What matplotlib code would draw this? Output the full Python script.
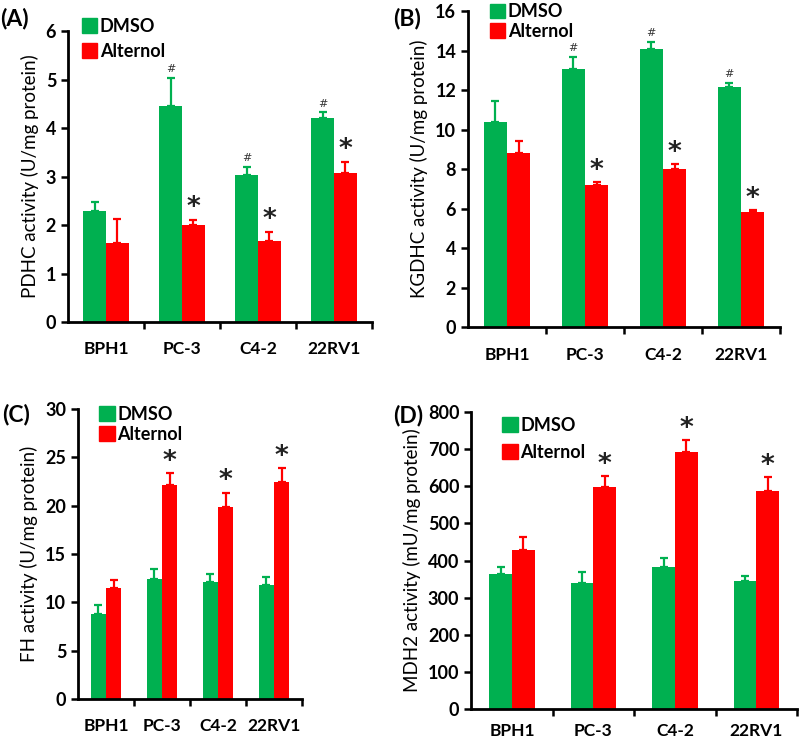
import matplotlib
matplotlib.use("Agg")
import matplotlib.pyplot as plt
from matplotlib.patches import Patch
import numpy as np

plt.rcParams['font.family'] = ['Lato', 'DejaVu Sans']

cells = ["BPH1", "PC-3", "C4-2", "22RV1"]
green = "#00B050"
red = "#FF0000"

# panel A - PDHC
pdhc_dmso = [2.28, 4.46, 3.04, 4.2]
pdhc_dmso_err = [0.19, 0.58, 0.16, 0.13]
pdhc_alt = [1.64, 2.01, 1.68, 3.07]
pdhc_alt_err = [0.49, 0.10, 0.18, 0.24]

# panel B - KGDHC
kgdhc_dmso = [10.4, 13.05, 14.08, 12.15]
kgdhc_dmso_err = [1.07, 0.63, 0.36, 0.2]
kgdhc_alt = [8.82, 7.22, 8.0, 5.83]
kgdhc_alt_err = [0.63, 0.13, 0.24, 0.1]

# panel C - FH
fh_dmso = [8.8, 12.45, 12.1, 11.75]
fh_dmso_err = [0.95, 0.95, 0.85, 0.85]
fh_alt = [11.45, 22.1, 19.9, 22.45]
fh_alt_err = [0.9, 1.25, 1.4, 1.4]

# panel D - MDH2
mdh_dmso = [364, 339, 384, 345]
mdh_dmso_err = [20, 29, 22, 14]
mdh_alt = [429, 598, 694, 588]
mdh_alt_err = [34, 29, 30, 36]

fig = plt.figure(figsize=(8, 7.42), dpi=100)


def panel(rect, dmso, dmso_err, alt, alt_err, ymax, step, ylabel, label, label_xy,
          hashes, stars, bw, leg_anchor, leg_space, xpad=14):
    ax = fig.add_axes(rect)
    x = np.arange(len(cells))
    ek = dict(lw=1.6, capsize=3, capthick=1.6)
    ax.bar(x - bw / 2, dmso, bw, color=green, yerr=[np.zeros(4), dmso_err],
           error_kw=dict(ecolor=green, **ek), label="DMSO", zorder=2)
    ax.bar(x + bw / 2, alt, bw, color=red, yerr=[np.zeros(4), alt_err],
           error_kw=dict(ecolor=red, **ek), label="Alternol", zorder=2)
    off = ymax * 0.012
    for i in hashes:
        ax.text(x[i] - bw / 2, dmso[i] + dmso_err[i] + off, "#", ha="center",
                va="bottom", fontsize=8, family="DejaVu Sans", color="#333333")
    for i in stars:
        ax.text(x[i] + bw / 2, alt[i] + alt_err[i] - ymax * 0.005, "*", ha="center",
                va="bottom", fontsize=19, fontweight="bold", family="DejaVu Sans",
                color="#222222")
    ax.set_xlim(-0.5, 3.5)
    ax.set_ylim(0, ymax)
    ax.set_yticks(np.arange(0, ymax + step / 2, step))
    ax.set_xticks(x)
    ax.set_xticklabels(cells, fontsize=12.5, fontweight="bold")
    ax.set_xticks([0.5, 1.5, 2.5, 3.5], minor=True)
    ax.tick_params(axis="x", which="major", length=0, pad=xpad)
    ax.tick_params(axis="x", which="minor", length=5, width=1.8, direction="out")
    ax.tick_params(axis="y", length=5, width=1.8, direction="out", labelsize=13)
    for t in ax.get_yticklabels():
        t.set_fontweight("bold")
    for s in ["top", "right"]:
        ax.spines[s].set_visible(False)
    for s in ["left", "bottom"]:
        ax.spines[s].set_linewidth(2)
    ax.set_ylabel(ylabel, fontsize=13.5, labelpad=5)
    handles = [Patch(color=green, label="DMSO"), Patch(color=red, label="Alternol")]
    ax.legend(handles=handles, loc="upper left", bbox_to_anchor=leg_anchor,
              frameon=False, handlelength=0.85, handleheight=0.9, handletextpad=0.15,
              labelspacing=leg_space, borderaxespad=0, borderpad=0,
              prop=dict(size=13, weight="bold"))
    fig.text(label_xy[0], label_xy[1], label, fontsize=16.5, fontweight="bold",
             ha="left", va="center")
    return ax


panel([0.085, 0.566, 0.38, 0.392], pdhc_dmso, pdhc_dmso_err, pdhc_alt, pdhc_alt_err,
      6, 1, "PDHC activity (U/mg protein)", "(A)", (0.0, 0.975),
      [1, 2, 3], [1, 2, 3], 0.3, (0.045, 1.045), 0.45)
panel([0.585, 0.559, 0.39, 0.426], kgdhc_dmso, kgdhc_dmso_err, kgdhc_alt, kgdhc_alt_err,
      16, 2, "KGDHC activity (U/mg protein)", "(B)", (0.492, 0.975),
      [1, 2, 3], [1, 2, 3], 0.3, (0.07, 1.025), 0.15)
panel([0.0975, 0.058, 0.28, 0.391], fh_dmso, fh_dmso_err, fh_alt, fh_alt_err,
      30, 5, "FH activity (U/mg protein)", "(C)", (0.003, 0.442),
      [], [1, 2, 3], 0.27, (0.095, 1.01), 0.15)
panel([0.589, 0.0445, 0.4075, 0.4], mdh_dmso, mdh_dmso_err, mdh_alt, mdh_alt_err,
      800, 100, "MDH2 activity (mU/mg protein)", "(D)", (0.492, 0.44),
      [], [1, 2, 3], 0.28, (0.095, 0.985), 0.55, xpad=10)

fig.savefig("out.png", dpi=100)
